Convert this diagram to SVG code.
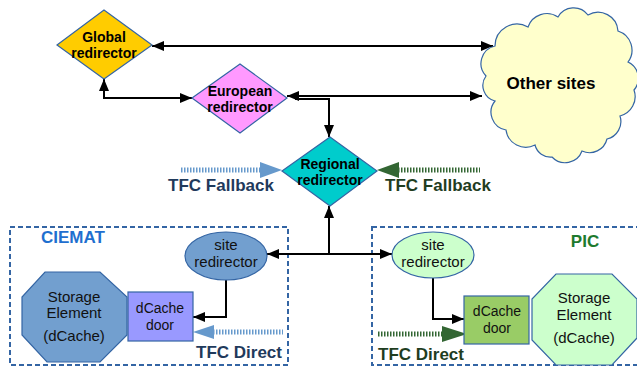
<svg xmlns="http://www.w3.org/2000/svg" width="637" height="366" viewBox="0 0 637 366">
<defs>
<marker id="ah" viewBox="0 0 12 10" refX="12" refY="5" markerWidth="12" markerHeight="10" markerUnits="userSpaceOnUse" orient="auto-start-reverse">
<path d="M0,0 L12,5 L0,10 z" fill="#000"/>
</marker>
<style>
text{font-family:"Liberation Sans",Arial,sans-serif;text-anchor:middle}
.b{font-weight:bold;font-size:14px;fill:#000}
.r{font-size:15px;fill:#111}
.d{font-size:14px;fill:#111}
.big{font-weight:bold;font-size:17px}
.shape{stroke:#3465a4;stroke-width:1.2}
.conn{fill:none;stroke:#000;stroke-width:2}
.box{fill:none;stroke:#3465a4;stroke-width:2;stroke-dasharray:5,3}
.dotb{stroke:#6699cc;stroke-width:5;stroke-dasharray:1.5,1.5}
.dotg{stroke:#336633;stroke-width:5;stroke-dasharray:1.5,1.5}
.navy{fill:#1f3a5c}
.dgreen{fill:#1f3d1f}
</style>
</defs>
<g id="ciemat-box">
<rect class="box" x="10" y="227" width="278" height="138"/>
<text class="big" x="41" y="243" style="text-anchor:start;fill:#1f6fcf">CIEMAT</text>
</g>
<g id="pic-box">
<rect class="box" x="372" y="227" width="280" height="138"/>
<text class="big" x="585" y="247" style="fill:#1e7a2e">PIC</text>
</g>
<g id="connectors">
<path class="conn" d="M152,46 H493" marker-start="url(#ah)" marker-end="url(#ah)"/>
<path class="conn" d="M104,79 V98 H192" marker-start="url(#ah)" marker-end="url(#ah)"/>
<path class="conn" d="M287,96 H482" marker-start="url(#ah)" marker-end="url(#ah)"/>
<path class="conn" d="M295,99 H329 V137" marker-end="url(#ah)"/>
<path class="conn" d="M329,206 V254"  marker-start="url(#ah)"/>
<path class="conn" d="M267,254 H392" marker-start="url(#ah)" marker-end="url(#ah)"/>
<path class="conn" d="M226,280 V317 H193" marker-end="url(#ah)"/>
<path class="conn" d="M433,277 V319 H464" marker-end="url(#ah)"/>
<line class="dotb" x1="181" y1="170" x2="261" y2="170"/>
<polygon points="260,162 282,170 260,178" fill="#6699cc"/>
<line class="dotg" x1="398" y1="170" x2="480" y2="170"/>
<polygon points="399,162 377,170 399,178" fill="#336633"/>
<line class="dotb" x1="213" y1="332" x2="283" y2="332"/>
<polygon points="214,325 193,332 214,339" fill="#6699cc"/>
<line class="dotg" x1="378" y1="334" x2="443" y2="334"/>
<polygon points="442,326 467,334 442,342" fill="#336633"/>
</g>
<g id="tfc-labels">
<text class="big navy" x="221" y="191">TFC Fallback</text>
<text class="big dgreen" x="438" y="191">TFC Fallback</text>
<text class="big navy" x="239" y="358">TFC Direct</text>
<text class="big dgreen" x="421" y="360">TFC Direct</text>
</g>
<g id="global">
<polygon class="shape" points="57,45 104,10 152,45 104,79" fill="#ffcc00"/>
<text class="b" x="104" y="42">Global</text>
<text class="b" x="104" y="58">redirector</text>
</g>
<g id="european">
<polygon class="shape" points="192,98 240,64 287,98 240,133" fill="#ff99ff"/>
<text class="b" x="240" y="96">European</text>
<text class="b" x="240" y="112">redirector</text>
</g>
<g id="regional">
<polygon class="shape" points="282,171 330,137 377,171 330,206" fill="#00cccc"/>
<text class="b" x="330" y="169">Regional</text>
<text class="b" x="330" y="185">redirector</text>
</g>
<g id="other-sites">
<path class="shape" fill="#ffffcc" d="M495,46 A22,22 0 0 1 528,27 A20,20 0 0 1 558,17 A18,18 0 0 1 588,15 A20,20 0 0 1 618,31 A20,20 0 0 1 628,62 A18,18 0 0 1 634,90 A20,20 0 0 1 620,116 A18,18 0 0 1 607,139 A18,18 0 0 1 582,151 A18,18 0 0 1 552,157 A16,16 0 0 1 535,145 A20,20 0 0 1 506,130 A18,18 0 0 1 495,101 A16,16 0 0 1 486,76 A18,18 0 0 1 495,46 z"/>
<text class="big" x="551" y="89">Other sites</text>
</g>
<g id="ciemat-site">
<ellipse class="shape" cx="226" cy="256" rx="41" ry="24" fill="#729fcf"/>
<text class="r" x="226" y="250">site</text>
<text class="r" x="226" y="267">redirector</text>
</g>
<g id="ciemat-storage">
<polygon class="shape" points="45,272 100,272 127,297 127,335 100,362 47,362 22,335 22,297" fill="#729fcf"/>
<text class="r" x="74" y="302">Storage</text>
<text class="r" x="74" y="318">Element</text>
<text class="r" x="74" y="341">(dCache)</text>
</g>
<g id="ciemat-door">
<rect class="shape" x="128" y="292" width="65" height="49" fill="#9999ff"/>
<text class="d" x="160" y="313">dCache</text>
<text class="d" x="160" y="330">door</text>
</g>
<g id="pic-site">
<ellipse class="shape" cx="433" cy="255" rx="41" ry="23" fill="#ccffcc"/>
<text class="r" x="433" y="250">site</text>
<text class="r" x="433" y="267">redirector</text>
</g>
<g id="pic-door">
<rect class="shape" x="464" y="296" width="65" height="48" fill="#99cc66"/>
<text class="d" x="497" y="316">dCache</text>
<text class="d" x="497" y="333">door</text>
</g>
<g id="pic-storage">
<polygon class="shape" points="556,274 612,274 637,299 637,338 612,365 556,365 532,340 532,299" fill="#ccffcc"/>
<text class="r" x="584" y="303">Storage</text>
<text class="r" x="584" y="320">Element</text>
<text class="r" x="584" y="343">(dCache)</text>
</g>
</svg>
